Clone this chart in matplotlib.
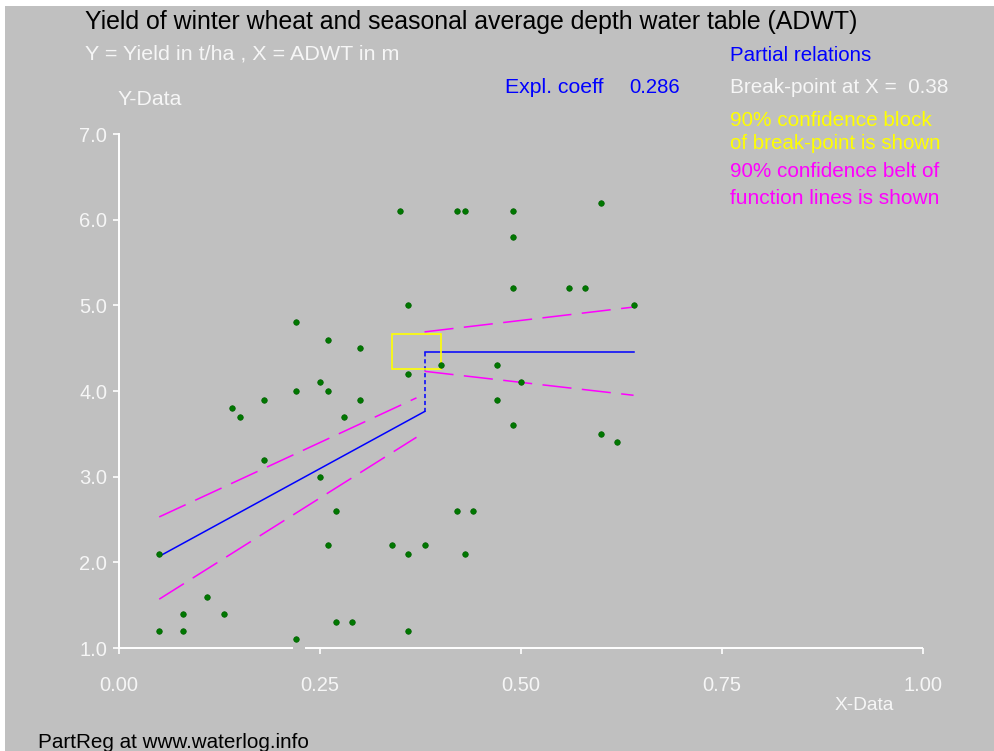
import matplotlib
matplotlib.use('Agg')
import matplotlib.pyplot as plt
from matplotlib.patches import Rectangle

# ---------------- data ----------------
x_data = [0.05, 0.05, 0.08, 0.08, 0.11, 0.13, 0.14, 0.15, 0.18, 0.18,
          0.22, 0.22, 0.22, 0.25, 0.25, 0.26, 0.26, 0.26, 0.27, 0.27,
          0.28, 0.29, 0.30, 0.30, 0.34, 0.35, 0.36, 0.36, 0.36, 0.36,
          0.38, 0.40, 0.42, 0.42, 0.43, 0.43, 0.44, 0.47, 0.47, 0.49,
          0.49, 0.49, 0.49, 0.50, 0.56, 0.58, 0.60, 0.60, 0.62, 0.64]
y_data = [2.1, 1.2, 1.4, 1.2, 1.6, 1.4, 3.8, 3.7, 3.9, 3.2,
          4.8, 4.0, 1.1, 4.1, 3.0, 4.6, 4.0, 2.2, 2.6, 1.3,
          3.7, 1.3, 4.5, 3.9, 2.2, 6.1, 5.0, 4.2, 2.1, 1.2,
          2.2, 4.3, 6.1, 2.6, 6.1, 2.1, 2.6, 4.3, 3.9, 6.1,
          5.8, 5.2, 3.6, 4.1, 5.2, 5.2, 6.2, 3.5, 3.4, 5.0]

break_x = 0.38
left_x = [0.05, 0.38]
left_y = [2.07, 3.76]
right_x = [0.38, 0.64]
right_y = [4.46, 4.46]
jump_y = [3.76, 4.46]

belt_left_x = [0.05, 0.37]
belt_left_upper = [2.53, 3.92]
belt_left_lower = [1.57, 3.46]
belt_right_x = [0.38, 0.64]
belt_right_upper = [4.69, 4.98]
belt_right_lower = [4.23, 3.95]

block_x = [0.34, 0.40]
block_y = [4.26, 4.67]

x_ticks = [0.0, 0.25, 0.5, 0.75, 1.0]
x_tick_labels = ['0.00', '0.25', '0.50', '0.75', '1.00']
y_ticks = [1.0, 2.0, 3.0, 4.0, 5.0, 6.0, 7.0]
y_tick_labels = ['1.0', '2.0', '3.0', '4.0', '5.0', '6.0', '7.0']

# ---------------- figure ----------------
plt.rcParams['font.family'] = ['Liberation Sans', 'DejaVu Sans']
plt.rcParams['lines.scale_dashes'] = False

W, H = 994, 751
fig = plt.figure(figsize=(W / 100, H / 100), dpi=100, facecolor='white')
fig.patches.append(Rectangle((5 / W, 0), 1 - 5 / W, 1 - 6 / H,
                             transform=fig.transFigure, facecolor='#C0C0C0',
                             edgecolor='none', zorder=-10))

ax = fig.add_axes([119 / W, 1 - 648 / H, 804 / W, 514 / H])
ax.set_facecolor('none')
ax.set_xlim(0, 1)
ax.set_ylim(1, 7)

BLUE = '#0000FF'
MAG = '#FF00FF'
YEL = '#FFFF00'
WHITE = '#F6F6F6'

# regression lines
ax.plot(left_x, left_y, color=BLUE, lw=1.1, zorder=3)
ax.plot(right_x, right_y, color=BLUE, lw=1.1, zorder=3)
ax.plot([break_x, break_x], jump_y, color=BLUE, lw=1.1, zorder=3,
        linestyle=(0, (3, 2)))

# confidence belts
dash = (0, (21, 7.5))
for bx, by in [(belt_left_x, belt_left_upper), (belt_left_x, belt_left_lower),
               (belt_right_x, belt_right_upper), (belt_right_x, belt_right_lower)]:
    ax.plot(bx, by, color=MAG, lw=1.1, linestyle=dash, zorder=3)

# confidence block of break point
ax.add_patch(Rectangle((block_x[0], block_y[0]), block_x[1] - block_x[0],
                       block_y[1] - block_y[0], facecolor='none',
                       edgecolor=YEL, lw=1.2, zorder=3))

# data points
ax.plot(x_data, y_data, linestyle='none', marker='o', ms=4.0,
        color='#007800', markeredgecolor='#006000', markeredgewidth=0.5, zorder=5)

# axes styling
for s in ['top', 'right', 'bottom']:
    ax.spines[s].set_visible(False)
ax.spines['left'].set_color('white')
ax.spines['left'].set_linewidth(1.4)
# bottom axis line drawn with the small gap seen in the original
ax.plot([0, 0.2164], [0, 0], transform=ax.transAxes, color='white', lw=1.4,
        clip_on=False, zorder=4, solid_capstyle='butt')
ax.plot([0.2313, 1.0], [0, 0], transform=ax.transAxes, color='white', lw=1.4,
        clip_on=False, zorder=4, solid_capstyle='butt')

ax.set_xticks(x_ticks)
ax.set_xticklabels(x_tick_labels)
ax.set_yticks(y_ticks)
ax.set_yticklabels(y_tick_labels)
ax.tick_params(axis='both', colors='white', labelcolor=WHITE, labelsize=14.5,
               length=4.3, width=1.2, direction='out')
ax.tick_params(axis='x', pad=16)
ax.tick_params(axis='y', pad=4.3)

# ---------------- texts ----------------
renderer = fig.canvas.get_renderer()


def label(xpx, ypx, s, wpx, color):
    t = fig.text(xpx / W, 1 - ypx / H, s, color=color, fontsize=14,
                 ha='left', va='baseline')
    bb = t.get_window_extent(renderer=renderer)
    t.set_fontsize(14 * wpx / bb.width)
    return t


label(85, 29, 'Yield of winter wheat and seasonal average depth water table (ADWT)', 781, 'black')
label(85, 60, 'Y = Yield in t/ha , X = ADWT in m', 315, WHITE)
label(118, 105, 'Y-Data', 65, WHITE)
label(505, 93, 'Expl. coeff', 99, BLUE)
label(629, 93, '0.286', 51, BLUE)
label(730, 61, 'Partial relations', 143, BLUE)
label(730, 93, 'Break-point at X =  0.38', 220, WHITE)
label(730, 126, '90% confidence block', 203, YEL)
label(730, 149, 'of break-point is shown', 213, YEL)
label(730, 177, '90% confidence belt of', 210, MAG)
label(730, 204, 'function lines is shown', 210, MAG)
label(835, 710, 'X-Data', 60, WHITE)
label(38, 748, 'PartReg at www.waterlog.info', 272, 'black')

fig.savefig('out.png', dpi=100, facecolor='white')
